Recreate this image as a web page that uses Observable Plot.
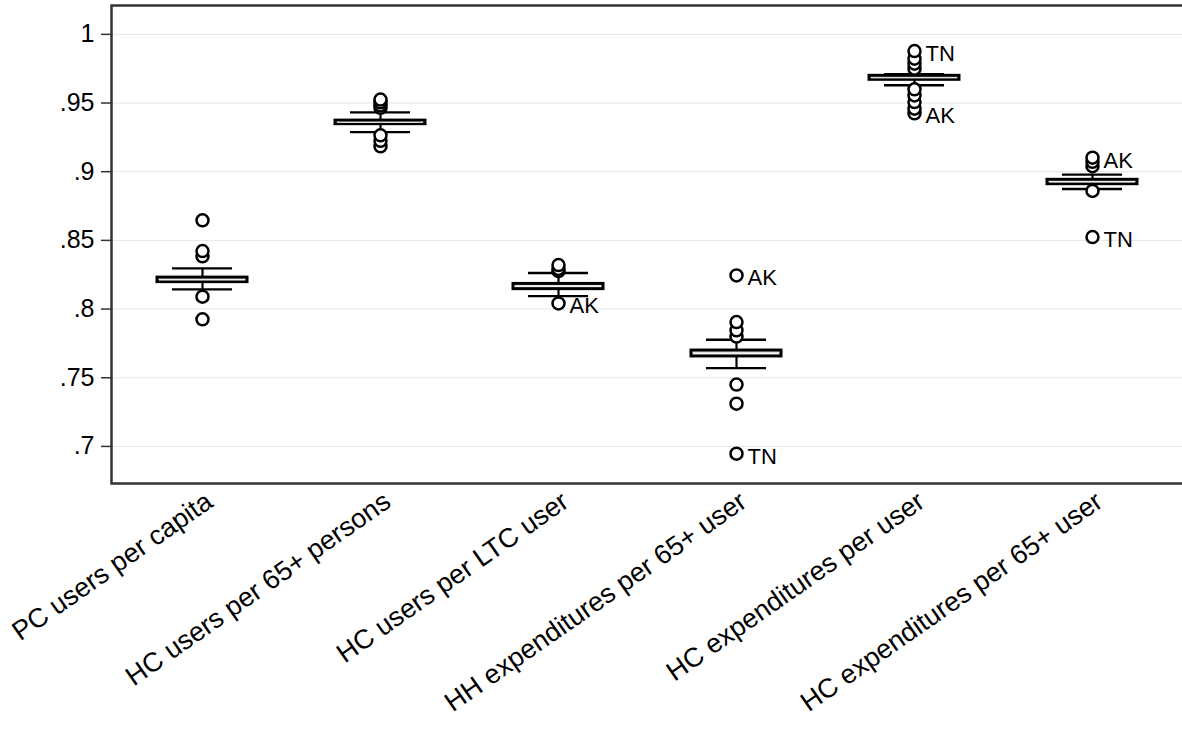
<!DOCTYPE html>
<html>
<head>
<meta charset="utf-8">
<script src="https://cdn.jsdelivr.net/npm/d3@7"></script>
<script src="https://cdn.jsdelivr.net/npm/@observablehq/plot@0.6"></script>
<style>
  html, body { margin: 0; padding: 0; background: #fff; overflow: hidden; }
  #chart svg { display: block; }
</style>
</head>
<body>
<div id="chart"></div>
<script>
const categories = [
  "PC users per capita",
  "HC users per 65+ persons",
  "HC users per LTC user",
  "HH expenditures per 65+ user",
  "HC expenditures per user",
  "HC expenditures per 65+ user"
];
const q1          = [0.8196, 0.9346, 0.8145, 0.7655, 0.9669, 0.8909];
const medians     = [0.8212, 0.9359, 0.8164, 0.7676, 0.9683, 0.8925];
const q3          = [0.8229, 0.9372, 0.8183, 0.7698, 0.9698, 0.8941];
const whiskerLow  = [0.8143, 0.9288, 0.8094, 0.7570, 0.9629, 0.8874];
const whiskerHigh = [0.8296, 0.9432, 0.8262, 0.7777, 0.9709, 0.8979];
const outliers = [
  [0.7925, 0.8090, 0.8384, 0.8422, 0.8646],
  [0.9185, 0.9225, 0.9265, 0.9465, 0.9482, 0.9505, 0.9525],
  [0.8041, 0.8277, 0.8292, 0.8320],
  [0.6947, 0.7311, 0.7450, 0.7800, 0.7845, 0.7905, 0.8245],
  [0.9425, 0.9459, 0.9507, 0.9555, 0.9600, 0.9750, 0.9786, 0.9823, 0.9878],
  [0.8524, 0.8860, 0.9040, 0.9072, 0.9102]
];
const labelCategory = [2, 3, 3, 4, 4, 5, 5];
const labelValue    = [0.8041, 0.8245, 0.6947, 0.9878, 0.9425, 0.9102, 0.8524];
const labelText     = ["AK", "AK", "TN", "TN", "AK", "AK", "TN"];
const yTicks      = [0.7, 0.75, 0.8, 0.85, 0.9, 0.95, 1];
const yTickLabels = [".7", ".75", ".8", ".85", ".9", ".95", "1"];
const yDomain     = [0.673, 1.021];

const boxes = categories.map((c, i) => ({
  cat: c, q1: q1[i], med: medians[i], q3: q3[i], lo: whiskerLow[i], hi: whiskerHigh[i]
}));
const points = categories.flatMap((c, i) => outliers[i].map(v => ({cat: c, v})));
const labels = labelText.map((t, i) => ({cat: categories[labelCategory[i]], v: labelValue[i], t}));

const chart = Plot.plot({
  width: 1182,
  height: 729,
  marginLeft: 111,
  marginRight: 0,
  marginTop: 5,
  marginBottom: 246,
  style: {fontFamily: "'Liberation Sans', Arial, Helvetica, sans-serif", background: "#fff", color: "#000"},
  x: {domain: categories, padding: 0, axis: null},
  y: {domain: yDomain, axis: null},
  marks: [
    Plot.gridY(yTicks, {stroke: "#e6e6e6", strokeOpacity: 1, strokeWidth: 1}),
    Plot.axisY(yTicks, {
      tickFormat: (d, i) => yTickLabels[yTicks.indexOf(d)],
      tickSize: 10, tickPadding: 7, fontSize: 25, stroke: "#333", strokeWidth: 1.5, fill: "#000"
    }),
    Plot.ruleX(boxes, {x: "cat", y1: "q3", y2: "hi", stroke: "#000", strokeWidth: 2.2}),
    Plot.ruleX(boxes, {x: "cat", y1: "lo", y2: "q1", stroke: "#000", strokeWidth: 2.2}),
    Plot.tickY(boxes, {x: "cat", y: "hi", stroke: "#000", strokeWidth: 2.4, insetLeft: 59, insetRight: 59}),
    Plot.tickY(boxes, {x: "cat", y: "lo", stroke: "#000", strokeWidth: 2.4, insetLeft: 59, insetRight: 59}),
    Plot.barY(boxes, {x: "cat", y1: "q1", y2: "q3", fill: "#e4e4e4", stroke: "#000", strokeWidth: 3, insetLeft: 44, insetRight: 44}),
    Plot.tickY(boxes, {x: "cat", y: "med", stroke: "#f4f4f4", strokeWidth: 1, insetLeft: 46, insetRight: 46}),
    Plot.dot(points, {x: "cat", y: "v", r: 6, stroke: "#000", strokeWidth: 2.5, fill: "#fff"}),
    Plot.text(labels, {x: "cat", y: "v", text: "t", textAnchor: "start", dx: 11, dy: 3, fontSize: 22, fill: "#000"}),
    Plot.text(categories, {
      x: d => d, frameAnchor: "bottom", text: d => d, rotate: -35,
      textAnchor: "end", lineAnchor: "middle", dx: 7, dy: 15, fontSize: 27, fill: "#000"
    }),
    Plot.frame({stroke: "#333", strokeWidth: 2.5, insetRight: -4})
  ]
});
document.getElementById("chart").appendChild(chart);
</script>
</body>
</html>
